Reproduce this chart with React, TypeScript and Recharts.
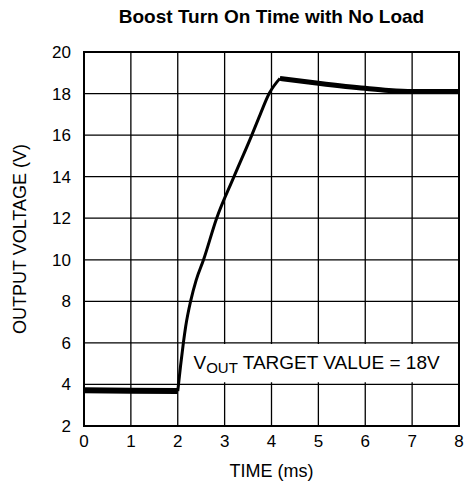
import React from "react";
import {
  LineChart,
  Line,
  XAxis,
  YAxis,
  CartesianGrid,
  ReferenceArea,
} from "recharts";

const X_TICKS = [0, 1, 2, 3, 4, 5, 6, 7, 8];
const Y_TICKS = [2, 4, 6, 8, 10, 12, 14, 16, 18, 20];

const FLAT_TIME = [0, 1, 2];
const FLAT_VOLT = [3.72, 3.7, 3.68];

const RISE_TIME = [2.0, 2.06, 2.12, 2.17, 2.28, 2.39, 2.55, 2.83, 3.2, 3.58, 3.76, 3.95, 4.18];
const RISE_VOLT = [3.68, 4.9, 6.0, 6.8, 8.06, 9.0, 10.0, 12.0, 14.0, 16.0, 17.0, 18.0, 18.73];

const TAIL_TIME = [4.18, 5.0, 6.0, 6.5, 7.0, 8.0];
const TAIL_VOLT = [18.73, 18.5, 18.25, 18.15, 18.1, 18.1];

const NOTE_X = [2.1, 8];
const NOTE_Y = [4.1, 5.95];

const TITLE = "Boost Turn On Time with No Load";
const X_LABEL = "TIME (ms)";
const Y_LABEL = "OUTPUT VOLTAGE (V)";

const zip = (t: number[], v: number[]) => t.map((x, i) => ({ t: x, v: v[i] }));
const flatData = zip(FLAT_TIME, FLAT_VOLT);
const riseData = zip(RISE_TIME, RISE_VOLT);
const tailData = zip(TAIL_TIME, TAIL_VOLT);

const FONT = "'Liberation Sans', Arial, sans-serif";

const NoteLabel = (props: any) => {
  const vb = props.viewBox || {};
  const x = vb.x + 11;
  const y = vb.y + vb.height / 2 + 6;
  return (
    <text x={x} y={y} fontFamily={FONT} fontSize={19} fill="#000">
      <tspan>V</tspan>
      <tspan fontSize={15} dy={4}>OUT</tspan>
      <tspan dy={-4}> TARGET VALUE = 18V</tspan>
    </text>
  );
};

const YLabel = (props: any) => {
  const vb = props.viewBox || {};
  const cx = 20;
  const cy = vb.y + vb.height / 2;
  return (
    <text
      x={cx}
      y={cy}
      transform={`rotate(-90 ${cx} ${cy})`}
      textAnchor="middle"
      dominantBaseline="central"
      fontFamily={FONT}
      fontSize={18}
      fill="#000"
    >
      {Y_LABEL}
    </text>
  );
};

const XLabel = (props: any) => {
  const vb = props.viewBox || {};
  const cx = vb.x + vb.width / 2;
  return (
    <text x={cx} y={477} textAnchor="middle" fontFamily={FONT} fontSize={18} fill="#000">
      {X_LABEL}
    </text>
  );
};

export default function App() {
  return (
    <div style={{ position: "absolute", left: 0, top: 0, width: 470, height: 485, background: "#fff" }}>
      <div
        style={{
          position: "absolute",
          left: 84,
          width: 375,
          top: 6,
          textAlign: "center",
          fontFamily: FONT,
          fontWeight: "bold",
          fontSize: 19,
          color: "#000",
        }}
      >
        {TITLE}
      </div>
      <LineChart width={470} height={485} margin={{ top: 52, right: 11, left: 0, bottom: 19 }}>
        <CartesianGrid stroke="#000" strokeWidth={1.3} horizontalValues={Y_TICKS} verticalValues={X_TICKS} />
        <XAxis
          dataKey="t"
          type="number"
          domain={[0, 8]}
          ticks={X_TICKS}
          height={40}
          axisLine={false}
          tickLine={false}
          tickSize={0}
          tickMargin={9}
          tick={{ fill: "#000", fontSize: 17, fontFamily: FONT }}
          allowDataOverflow
          label={<XLabel />}
        />
        <YAxis
          dataKey="v"
          type="number"
          domain={[2, 20]}
          ticks={Y_TICKS}
          width={84}
          axisLine={false}
          tickLine={false}
          tickSize={0}
          tickMargin={13}
          tick={{ fill: "#000", fontSize: 17, fontFamily: FONT }}
          allowDataOverflow
          label={<YLabel />}
        />
        <ReferenceArea
          x1={NOTE_X[0]}
          x2={NOTE_X[1]}
          y1={NOTE_Y[0]}
          y2={NOTE_Y[1]}
          fill="#fff"
          fillOpacity={1}
          stroke="none"
          label={<NoteLabel />}
        />
        <ReferenceArea x1={0} x2={8} y1={2} y2={20} fill="none" stroke="#000" strokeWidth={2} />
        <Line data={flatData} dataKey="v" type="linear" stroke="#000" strokeWidth={6} dot={false} isAnimationActive={false} />
        <Line data={riseData} dataKey="v" type="monotone" stroke="#000" strokeWidth={3} dot={false} isAnimationActive={false} />
        <Line data={tailData} dataKey="v" type="monotone" stroke="#000" strokeWidth={5} dot={false} isAnimationActive={false} />
      </LineChart>
    </div>
  );
}
